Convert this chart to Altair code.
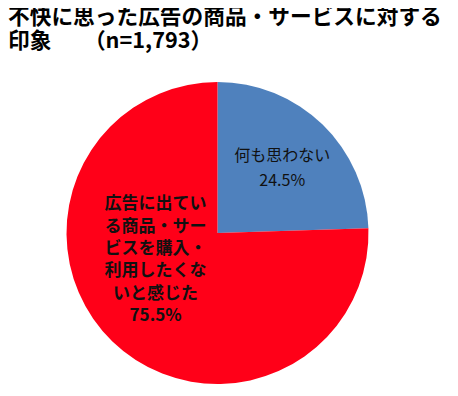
import math
import altair as alt
import pandas as pd

categories = ["何も思わない", "広告に出ている商品・サービスを購入・利用したくないと感じた"]
values = [24.5, 75.5]
label_lines = [
    ["何も思わない", "24.5%"],
    ["広告に出てい", "る商品・サー", "ビスを購入・", "利用したくな", "いと感じた", "75.5%"],
]
colors = ["#4F81BD", "#FF0018"]
slice_order = [0, 1]
title_lines = ["不快に思った広告の商品・サービスに対する", "印象　\u2002（n=1,793）"]

FONT = "Noto Sans CJK JP"

df = pd.DataFrame({
    "category": categories,
    "value": values,
    "label": ["\n".join(l) for l in label_lines],
    "ord": slice_order,
})

theta_scale = alt.Scale(domain=[0, 100], range=[0, 2 * math.pi])

base = alt.Chart(df).transform_stack(
    stack="value", groupby=[], as_=["v0", "v1"], sort=[alt.SortField("ord")]
).transform_calculate(mid="(datum.v0 + datum.v1) / 2")

pie = base.mark_arc(outerRadius=151).encode(
    theta=alt.Theta("v0:Q", scale=theta_scale),
    theta2="v1:Q",
    color=alt.Color("category:N", scale=alt.Scale(domain=categories, range=colors), legend=None),
)

t_blue = base.transform_filter(alt.datum.ord == 0).mark_text(
    radius=93, dy=-10, fontSize=16, font=FONT, lineBreak="\n", lineHeight=25,
    color="#111111", align="center", baseline="middle",
).encode(
    theta=alt.Theta("mid:Q", scale=theta_scale),
    text="label:N",
)

t_red = base.transform_filter(alt.datum.ord == 1).mark_text(
    radius=66, dx=-16, dy=-76, fontSize=17, fontWeight="bold", font=FONT,
    lineBreak="\n", lineHeight=22.3, color="#111111", align="center", baseline="middle",
).encode(
    theta=alt.Theta("mid:Q", scale=theta_scale),
    text="label:N",
)

chart = alt.layer(pie, t_blue, t_red).properties(
    width=419,
    height=320,
    autosize="none",
    padding={"left": 0, "top": 65, "right": 23, "bottom": 0},
    title=alt.TitleParams(
        text=title_lines,
        anchor="start",
        frame="group",
        fontSize=21.7,
        font=FONT,
        fontWeight="bold",
        color="black",
        lineHeight=24.5,
        offset=20,
        limit=2000,
    ),
).configure_view(stroke=None)

chart.save("out.html", embed_options={"renderer": "svg", "actions": False})
